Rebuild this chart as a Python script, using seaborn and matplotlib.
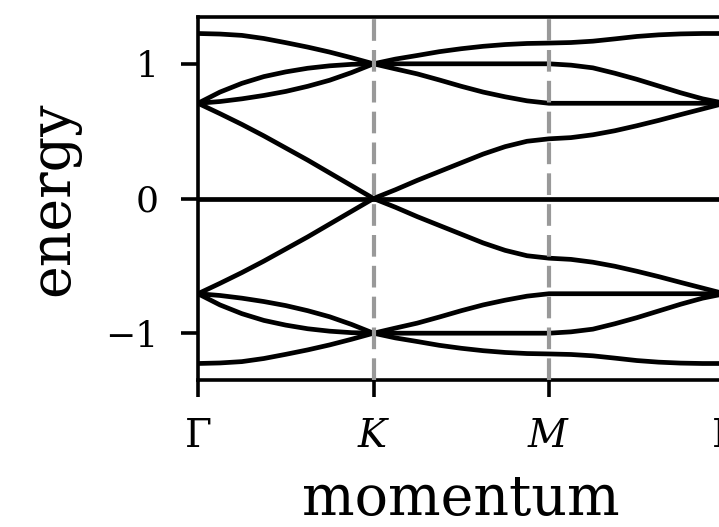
import numpy as np
import pandas as pd
import matplotlib
matplotlib.use("Agg")
import matplotlib.pyplot as plt
import seaborn as sns

# Momentum sampled along the path Gamma -> K -> M -> Gamma (segment index units)
momentum = [0.0, 0.125, 0.25, 0.375, 0.5, 0.625, 0.75, 0.875,
            1.0, 1.125, 1.25, 1.375, 1.5, 1.625, 1.75, 1.875,
            2.0, 2.125, 2.25, 2.375, 2.5, 2.625, 2.75, 2.875, 3.0]

# Band energies, ordered from lowest to highest
band1 = [-1.225, -1.221, -1.211, -1.188, -1.157, -1.124, -1.087, -1.045,
         -1.0, -1.035, -1.062, -1.09, -1.112, -1.13, -1.143, -1.151,
         -1.154, -1.158, -1.168, -1.185, -1.203, -1.215, -1.222, -1.225, -1.225]
band2 = [-0.707, -0.79, -0.855, -0.905, -0.94, -0.967, -0.985, -0.996,
         -1.0, -1.0, -1.0, -1.0, -1.0, -1.0, -1.0, -1.0,
         -1.0, -0.99, -0.97, -0.93, -0.885, -0.835, -0.785, -0.74, -0.707]
band3 = [-0.707, -0.72, -0.74, -0.765, -0.795, -0.833, -0.878, -0.935,
         -1.0, -0.962, -0.925, -0.88, -0.833, -0.79, -0.755, -0.725,
         -0.707, -0.707, -0.707, -0.707, -0.707, -0.707, -0.707, -0.707, -0.707]
band4 = [-0.707, -0.63, -0.55, -0.465, -0.375, -0.285, -0.19, -0.095,
         0.0, -0.065, -0.135, -0.2, -0.265, -0.33, -0.385, -0.425,
         -0.443, -0.452, -0.473, -0.503, -0.54, -0.58, -0.623, -0.665, -0.707]
band5 = [0.0] * 25
band6 = [0.707, 0.63, 0.55, 0.465, 0.375, 0.285, 0.19, 0.095,
         0.0, 0.065, 0.135, 0.2, 0.265, 0.33, 0.385, 0.425,
         0.443, 0.452, 0.473, 0.503, 0.54, 0.58, 0.623, 0.665, 0.707]
band7 = [0.707, 0.72, 0.74, 0.765, 0.795, 0.833, 0.878, 0.935,
         1.0, 0.962, 0.925, 0.88, 0.833, 0.79, 0.755, 0.725,
         0.707, 0.707, 0.707, 0.707, 0.707, 0.707, 0.707, 0.707, 0.707]
band8 = [0.707, 0.79, 0.855, 0.905, 0.94, 0.967, 0.985, 0.996,
         1.0, 1.0, 1.0, 1.0, 1.0, 1.0, 1.0, 1.0,
         1.0, 0.99, 0.97, 0.93, 0.885, 0.835, 0.785, 0.74, 0.707]
band9 = [1.225, 1.221, 1.211, 1.188, 1.157, 1.124, 1.087, 1.045,
         1.0, 1.035, 1.062, 1.09, 1.112, 1.13, 1.143, 1.151,
         1.154, 1.158, 1.168, 1.185, 1.203, 1.215, 1.222, 1.225, 1.225]

bands = [band1, band2, band3, band4, band5, band6, band7, band8, band9]

# High-symmetry points
sym_positions = [0, 1, 2, 3]
sym_labels = [r"$\Gamma$", r"$K$", r"$M$", r"$\Gamma$"]
energy_ticks = [-1, 0, 1]

df = pd.DataFrame({
    "momentum": np.tile(momentum, len(bands)),
    "energy": np.concatenate(bands),
    "band": np.repeat(np.arange(len(bands)), len(momentum)),
})

sns.set_theme(style="ticks")
plt.rcParams["font.family"] = ["DejaVu Serif"]
plt.rcParams["mathtext.fontset"] = "dejavuserif"
plt.rcParams["axes.unicode_minus"] = True

fig = plt.figure(figsize=(7.19, 5.27), dpi=100)
ax = fig.add_axes([198 / 719, 1 - 380 / 527, 526.5 / 719, 363 / 527])

sns.lineplot(data=df, x="momentum", y="energy", units="band", estimator=None,
             sort=False, color="black", ax=ax, legend=False)
for line in ax.get_lines():
    line.set_linewidth(3.4)
    line.set_solid_joinstyle("round")
    line.set_solid_capstyle("round")

for k in sym_positions[1:-1]:
    ax.axvline(k, color="0.6", linewidth=3.0, linestyle=(0, (5.2, 2.2)), zorder=3)

ax.set_xlim(sym_positions[0], sym_positions[-1])
ax.margins(y=0.05)
ax.set_xticks(sym_positions)
ax.set_xticklabels(sym_labels)
ax.set_yticks(energy_ticks)

for side in ["left", "right", "top", "bottom"]:
    ax.spines[side].set_visible(True)
    ax.spines[side].set_linewidth(2.6)
    ax.spines[side].set_color("black")

ax.tick_params(axis="both", length=12.5, width=2.6, color="black",
               labelcolor="black")
ax.tick_params(axis="y", pad=16, labelsize=26)
ax.tick_params(axis="x", pad=15, labelsize=28)

ax.set_xlabel("momentum", fontsize=40, labelpad=12, color="black")
ax.set_ylabel("energy", fontsize=40, labelpad=18, color="black")

fig.savefig("out.png", dpi=100)
